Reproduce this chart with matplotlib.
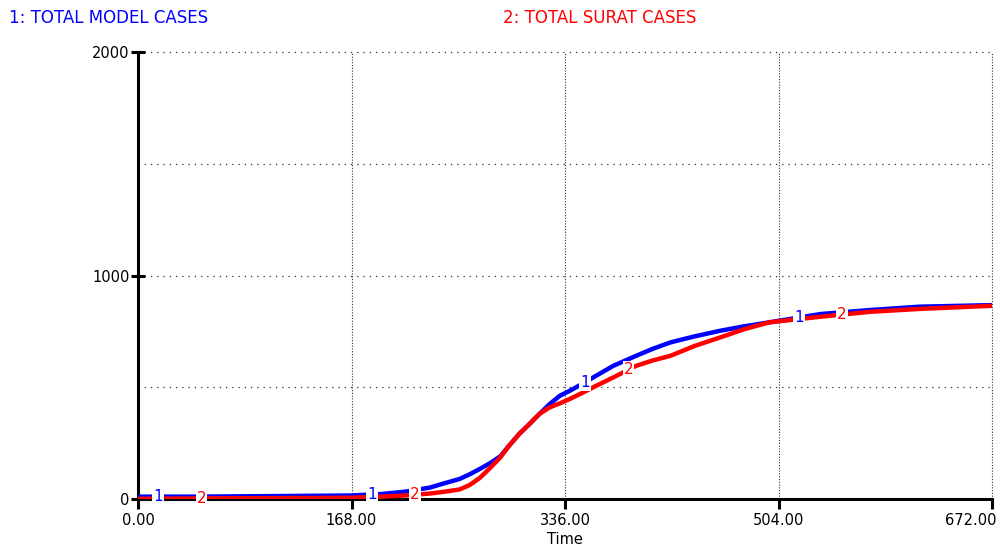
import matplotlib
matplotlib.use("Agg")
import matplotlib.pyplot as plt
import numpy as np
from matplotlib.ticker import FixedLocator

# values
time = [0, 48, 96, 144, 168, 192, 210, 230, 240, 253, 261, 269, 277, 285, 292,
        300, 308, 316, 324, 332, 340, 348, 360, 374, 392, 405, 419, 438, 458,
        477, 497, 537, 576, 615, 672]
model_cases = [10, 10, 12, 14, 15, 22, 32, 51, 68, 89, 110, 134, 160, 190, 238,
               291, 335, 381, 425, 462, 485, 510, 550, 596, 641, 672, 701, 728, 753,
               773, 791, 828, 846, 861, 868]
surat_cases = [0, 2, 3, 4, 5, 10, 15, 24, 31, 42, 62, 94, 138, 185, 238,
               291, 335, 381, 410, 428, 448, 470, 505, 544, 596, 620, 641, 685, 723,
               760, 791, 816, 838, 851, 865]

x_ticks = [0, 168, 336, 504, 672]
x_labels = ["0.00", "168.00", "336.00", "504.00", "672.00"]
y_ticks = [0, 1000, 2000]
y_minor = [500, 1500]

blue = "#0000ff"
red = "#ff0000"

fig = plt.figure(figsize=(10, 5.58), dpi=100)
ax = fig.add_axes([0.138, 0.106, 0.854, 0.8])

ax.plot(time, model_cases, color=blue, lw=3.2, solid_capstyle="butt", zorder=3)
ax.plot(time, surat_cases, color=red, lw=3.2, solid_capstyle="butt", zorder=4)

# curve number labels, one pair per grid interval
for start in x_ticks[:-1]:
    for num, offset, vals, col in [("1", 16, model_cases, blue), ("2", 50, surat_cases, red)]:
        tx = start + offset
        ty = np.interp(tx, time, vals)
        ax.text(tx, ty, num, color=col, fontsize=11, ha="center", va="center",
                zorder=6, bbox=dict(facecolor="white", edgecolor="none", pad=0.8))

ax.set_xlim(0, 672)
ax.set_ylim(0, 2000)
ax.set_xticks(x_ticks)
ax.set_xticklabels(x_labels)
ax.set_yticks(y_ticks)
ax.set_yticklabels([str(v) for v in y_ticks])
ax.yaxis.set_minor_locator(FixedLocator(y_minor))

for side in ["top", "right"]:
    ax.spines[side].set_visible(False)
for side in ["left", "bottom"]:
    ax.spines[side].set_linewidth(2.2)
    ax.spines[side].set_zorder(2)

ax.tick_params(axis="x", direction="out", length=7, width=2.2, labelsize=10.5, pad=3)
ax.tick_params(axis="y", direction="inout", length=10, width=2.2, labelsize=10.5, pad=1)
ax.tick_params(axis="y", which="minor", length=0)

# last x label sits left of its tick, as in the reference
last = ax.get_xticklabels()[-1]
last.set_horizontalalignment("right")
last.set_x(last.get_position()[0])
import matplotlib.transforms as mtransforms
last.set_transform(last.get_transform() + mtransforms.ScaledTranslation(5 / 100, 0, fig.dpi_scale_trans))

ax.xaxis.grid(True, color="#333333", linestyle=(0, (1, 1.5)), linewidth=0.8)
ax.yaxis.grid(True, which="both", color="#333333", linestyle=(0, (1, 4)), linewidth=0.9)
for gl in ax.get_xgridlines() + ax.get_ygridlines():
    gl.set_clip_on(False)
ax.set_axisbelow(True)

ax.set_xlabel("Time", fontsize=10.5, labelpad=3)

fig.text(0.009, 0.967, "1: TOTAL MODEL CASES", color=blue, fontsize=12, va="center")
fig.text(0.503, 0.967, "2: TOTAL SURAT CASES", color=red, fontsize=12, va="center")

fig.savefig("out.png", dpi=100)
